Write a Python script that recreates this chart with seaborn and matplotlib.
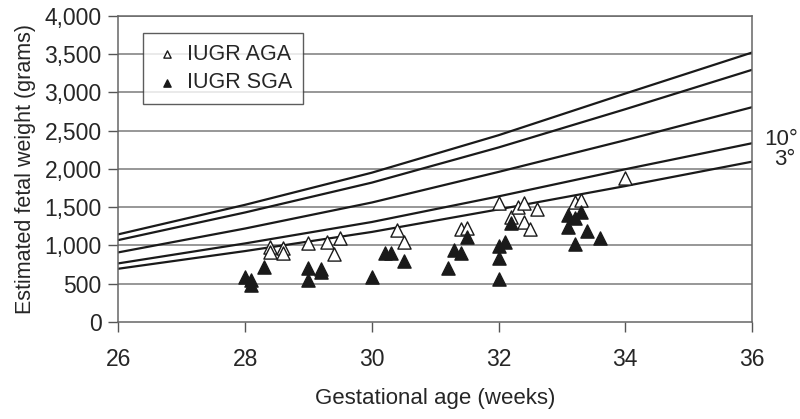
import numpy as np
import pandas as pd
import seaborn as sns
import matplotlib
matplotlib.use("Agg")
import matplotlib.pyplot as plt

# ------------------------------------------
# Data
# ------------------------------------------

# percentile curves (estimated fetal weight, grams)
curve_weeks = [26, 28, 30, 32, 34, 36]
p97 = [1144, 1530, 1950, 2440, 2985, 3521]
p90 = [1069, 1430, 1820, 2280, 2780, 3295]
p50 = [908, 1220, 1560, 1960, 2375, 2806]
p10 = [764, 1025, 1305, 1640, 1995, 2335]
p3 = [694, 925, 1175, 1470, 1775, 2094]

# IUGR AGA (open triangles)
aga_weeks = [28.4, 28.4, 28.6, 28.6, 29.0, 29.3, 29.5, 29.4, 30.4, 30.5,
             31.4, 31.5, 32.0, 32.2, 32.3, 32.4, 32.4, 32.5, 32.6, 33.2,
             33.3, 34.0]
aga_weight = [982, 916, 961, 905, 1026, 1039, 1091, 890, 1200, 1039,
              1209, 1222, 1550, 1374, 1497, 1550, 1301, 1213, 1471, 1563,
              1593, 1877]

# IUGR SGA (filled triangles)
sga_weeks = [28.0, 28.1, 28.1, 28.3, 29.0, 29.0, 29.2, 29.2, 30.0, 30.2,
             30.3, 30.5, 31.2, 31.3, 31.4, 31.5, 32.0, 32.0, 32.0, 32.1,
             32.2, 33.1, 33.2, 33.3, 33.1, 33.4, 33.6, 33.2]
sga_weight = [589, 546, 480, 720, 705, 546, 693, 647, 589, 895,
              895, 790, 699, 943, 895, 1113, 990, 840, 557, 1050,
              1288, 1397, 1361, 1440, 1243, 1187, 1100, 1013]

curves = pd.DataFrame({
    "week": curve_weeks * 5,
    "weight": p97 + p90 + p50 + p10 + p3,
    "pct": ["97"] * 6 + ["90"] * 6 + ["50"] * 6 + ["10"] * 6 + ["3"] * 6,
})
aga = pd.DataFrame({"week": aga_weeks, "weight": aga_weight})
sga = pd.DataFrame({"week": sga_weeks, "weight": sga_weight})

# ------------------------------------------
# Plot
# ------------------------------------------

sns.set_style("white")
plt.rcParams["font.family"] = ["Liberation Sans", "DejaVu Sans"]

fig = plt.figure(figsize=(8, 4.19), dpi=100)
ax = fig.add_axes([0.148, 0.232, 0.792, 0.730])

# horizontal grid
for g in range(500, 4001, 500):
    ax.axhline(g, color="#7a7a7a", lw=1.1, zorder=0)

sns.lineplot(
    data=curves, x="week", y="weight", hue="pct",
    palette=["#1a1a1a"] * 5, lw=1.6, legend=False, ax=ax, zorder=2
)

sns.scatterplot(
    data=aga, x="week", y="weight", marker="^", s=90,
    facecolor="white", edgecolor="#1a1a1a", linewidth=1.0,
    label="IUGR AGA", ax=ax, zorder=3
)
sns.scatterplot(
    data=sga, x="week", y="weight", marker="^", s=90,
    color="#1a1a1a", edgecolor="#1a1a1a", linewidth=1.0,
    label="IUGR SGA", ax=ax, zorder=3
)

ax.set_xlim(26, 36)
ax.set_ylim(0, 4000)
ax.set_xticks([26, 28, 30, 32, 34, 36])
ax.set_yticks(range(0, 4001, 500))
ax.set_yticklabels([f"{v:,}" for v in range(0, 4001, 500)])

ax.tick_params(axis="both", labelsize=16.5, length=7, width=1.0,
               color="#555555", direction="out", pad=5, left=True, bottom=True)
ax.tick_params(axis="x", pad=12)

for side in ["left", "bottom", "right", "top"]:
    ax.spines[side].set_visible(True)
    ax.spines[side].set_color("#666666")
    ax.spines[side].set_linewidth(1.1)

ax.set_xlabel("Gestational age (weeks)", fontsize=16, labelpad=12)
ax.set_ylabel("Estimated fetal weight (grams)", fontsize=15.5, labelpad=6)

# percentile labels at right
ax.text(36.2, 2380, "10°", fontsize=16, va="center", ha="left", clip_on=False)
ax.text(36.35, 2120, "3°", fontsize=16, va="center", ha="left", clip_on=False)

leg = ax.legend(
    loc="upper left", bbox_to_anchor=(0.039, 0.944), fontsize=15.5,
    frameon=True, fancybox=False, edgecolor="#333333", markerscale=0.55,
    handlelength=1.2, handletextpad=0.35, borderpad=0.5, labelspacing=0.35,
    borderaxespad=0
)
leg.get_frame().set_linewidth(1.0)

fig.savefig("out.png", dpi=100)
